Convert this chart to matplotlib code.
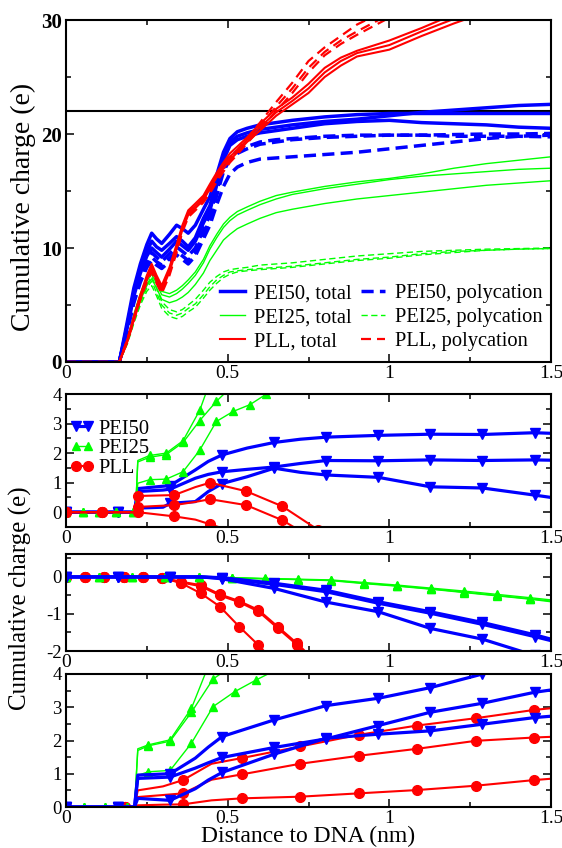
"""
Cumulative charge around DNA for PEI50, PEI25 and PLL (four stacked panels).
Saves out.png (562x848).
"""

import numpy as np
import matplotlib
matplotlib.use("Agg")
import matplotlib.pyplot as plt
from matplotlib.ticker import MultipleLocator
from matplotlib.lines import Line2D

plt.rcParams["font.family"] = ["Liberation Serif", "DejaVu Serif"]
plt.rcParams["axes.unicode_minus"] = False

BLUE, GREEN, RED = "#0000ff", "#00ff00", "#ff0000"

# ── Top panel: total vs. polycation charge ────────────────────────────────────

X_TOP = [0, .165, .19, .21, .23, .25, .265, .28, .296, .32, .342, .36, .378, .40,
         .425, .445, .466, .487, .507, .53, .56, .60, .65, .70, .75, .80, .85, .90,
         1.0, 1.1, 1.2, 1.3, 1.4, 1.5]

PEI50_TOTAL = [
    [0, 0, 3.6, 6.5, 8.6, 10.3, 11.3, 10.8, 10.4, 11.2, 12.0, 11.7, 11.3, 12.0, 13.4, 14.5, 16.4,
     18.4, 19.6, 20.2, 20.5, 20.8, 21.0, 21.2, 21.35, 21.5, 21.6, 21.7, 21.8, 21.8, 21.8, 21.8, 21.8, 21.8],
    [0, 0, 3.3, 6.1, 8.1, 9.7, 10.6, 10.1, 9.8, 10.4, 11.0, 10.6, 10.1, 10.9, 12.6, 13.7, 15.8,
     18.0, 19.3, 19.8, 20.1, 20.4, 20.6, 20.8, 20.95, 21.1, 21.2, 21.3, 21.6, 21.9, 22.1, 22.3, 22.5, 22.6],
    [0, 0, 3.1, 5.8, 7.8, 9.3, 10.0, 9.6, 9.2, 9.9, 10.6, 10.2, 9.8, 10.6, 12.2, 13.3, 15.5,
     17.7, 19.0, 19.5, 19.8, 20.1, 20.3, 20.5, 20.7, 20.9, 21.0, 21.1, 21.2, 21.0, 20.9, 20.8, 20.6, 20.5],
]
PEI50_POLY = [
    [0, 0, 3.0, 5.6, 7.5, 8.9, 9.6, 9.2, 8.8, 9.5, 10.1, 9.7, 9.3, 10.0, 11.6, 12.9, 15.0,
     17.0, 18.0, 18.5, 18.9, 19.3, 19.5, 19.6, 19.7, 19.8, 19.85, 19.9, 19.9, 19.9, 19.95, 20.0, 20.0, 20.05],
    [0, 0, 2.9, 5.4, 7.2, 8.6, 9.2, 8.8, 8.5, 9.1, 9.7, 9.3, 8.9, 9.6, 11.2, 12.5, 14.6,
     16.7, 17.8, 18.3, 18.7, 19.1, 19.3, 19.5, 19.6, 19.7, 19.75, 19.8, 19.9, 19.9, 19.8, 19.8, 19.8, 19.75],
    [0, 0, 2.8, 5.2, 7.0, 8.3, 8.9, 8.5, 8.2, 8.8, 9.4, 9.0, 8.6, 9.3, 10.8, 12.0, 13.8,
     15.4, 16.5, 17.1, 17.5, 17.8, 17.9, 18.0, 18.1, 18.2, 18.3, 18.4, 18.7, 19.0, 19.3, 19.6, 19.8, 19.9],
]
PEI25_TOTAL = [
    [0, 0, 2.0, 4.2, 6.0, 7.4, 8.1, 7.2, 6.2, 6.0, 6.3, 6.7, 7.2, 7.9, 9.0, 10.2, 11.2,
     12.1, 12.7, 13.2, 13.6, 14.1, 14.6, 14.9, 15.15, 15.4, 15.6, 15.8, 16.1, 16.5, 17.0, 17.4, 17.7, 18.0],
    [0, 0, 1.9, 4.0, 5.7, 7.1, 7.7, 6.9, 5.9, 5.7, 6.0, 6.4, 6.9, 7.6, 8.7, 9.9, 10.9,
     11.8, 12.4, 12.9, 13.3, 13.8, 14.3, 14.7, 14.95, 15.2, 15.4, 15.6, 16.0, 16.3, 16.5, 16.7, 16.9, 17.0],
    [0, 0, 1.8, 3.8, 5.4, 6.7, 7.3, 6.5, 5.5, 5.2, 5.4, 5.7, 6.1, 6.8, 7.8, 8.9, 9.8,
     10.7, 11.2, 11.7, 12.1, 12.6, 13.1, 13.4, 13.65, 13.9, 14.1, 14.3, 14.6, 14.9, 15.2, 15.5, 15.7, 15.9],
]
PEI25_POLY = [
    [0, 0, 1.8, 3.8, 5.5, 6.8, 7.5, 6.5, 5.3, 4.6, 4.4, 4.6, 5.0, 5.5, 6.3, 7.0, 7.5,
     7.9, 8.1, 8.2, 8.3, 8.5, 8.6, 8.7, 8.85, 9.0, 9.15, 9.3, 9.5, 9.7, 9.8, 9.9, 9.95, 10.0],
    [0, 0, 1.7, 3.6, 5.2, 6.5, 7.1, 6.1, 5.0, 4.3, 4.1, 4.3, 4.7, 5.1, 5.9, 6.6, 7.2,
     7.6, 7.9, 8.0, 8.1, 8.2, 8.3, 8.4, 8.55, 8.7, 8.85, 9.0, 9.2, 9.5, 9.7, 9.8, 9.9, 9.95],
    [0, 0, 1.6, 3.4, 5.0, 6.2, 6.7, 5.8, 4.7, 4.0, 3.8, 4.0, 4.4, 4.8, 5.6, 6.3, 6.9,
     7.4, 7.7, 7.9, 8.0, 8.1, 8.2, 8.3, 8.45, 8.6, 8.75, 8.9, 9.1, 9.4, 9.6, 9.8, 9.9, 9.95],
]
PLL_TOTAL = [
    [0, 0, 2.0, 4.0, 5.9, 7.6, 8.6, 7.6, 6.7, 8.3, 10.3, 12.0, 13.3, 13.9, 14.6, 15.6, 16.6,
     17.5, 18.3, 18.9, 19.7, 20.9, 22.2, 23.2, 24.4, 25.8, 26.7, 27.3, 28.2, 29.3, 30.5, 31.5, 32.5, 33.5],
    [0, 0, 1.9, 3.8, 5.7, 7.4, 8.4, 7.4, 6.5, 8.1, 10.1, 11.8, 13.1, 13.7, 14.4, 15.4, 16.4,
     17.3, 18.0, 18.6, 19.5, 20.6, 21.9, 22.9, 24.0, 25.4, 26.4, 27.1, 27.8, 29.0, 30.1, 31.1, 32.0, 33.0],
    [0, 0, 1.8, 3.7, 5.5, 7.2, 8.2, 7.2, 6.3, 7.9, 9.9, 11.6, 12.9, 13.5, 14.2, 15.2, 16.2,
     17.0, 17.7, 18.4, 19.3, 20.3, 21.6, 22.6, 23.6, 25.0, 26.0, 26.8, 27.4, 28.6, 29.7, 30.7, 31.6, 32.5],
]
PLL_POLY = [
    [0, 0, 2.0, 3.9, 5.8, 7.4, 8.3, 7.3, 6.4, 8.0, 10.0, 11.8, 13.1, 13.7, 14.4, 15.2, 16.2,
     17.1, 17.9, 18.6, 19.6, 21.0, 22.8, 24.5, 26.4, 27.6, 28.6, 29.6, 31.0, 32.0, 33.0, 34.0, 35.0, 36.0],
    [0, 0, 1.9, 3.8, 5.6, 7.2, 8.1, 7.1, 6.2, 7.8, 9.8, 11.6, 12.9, 13.5, 14.2, 15.0, 16.0,
     16.9, 17.7, 18.4, 19.4, 20.7, 22.4, 24.0, 25.8, 27.2, 28.2, 29.0, 30.5, 31.5, 32.5, 33.5, 34.5, 35.5],
    [0, 0, 1.8, 3.7, 5.5, 7.0, 7.9, 6.9, 6.0, 7.6, 9.6, 11.4, 12.7, 13.3, 14.0, 14.8, 15.8,
     16.7, 17.5, 18.2, 19.2, 20.4, 22.0, 23.6, 25.4, 26.9, 27.9, 28.7, 30.2, 31.2, 32.2, 33.2, 34.2, 35.2],
]
DNA_CHARGE = 22

# ── Panel 2 ───────────────────────────────────────────────────────────────────

P2_BLUE_X = [0, .161, .212, .222, .30, .322, .40, .44, .483, .56, .644, .725, .805, .966,
             1.127, 1.288, 1.449, 1.5]
P2_BLUE = [
    [0, 0, 0, 0.8, 0.88, 0.9, 1.43, 1.72, 1.94, 2.17, 2.36, 2.47, 2.54, 2.6, 2.64, 2.63, 2.69, 2.67],
    [0, 0, 0, 0.7, 0.75, 0.78, 1.15, 1.28, 1.37, 1.45, 1.53, 1.65, 1.75, 1.74, 1.77, 1.75, 1.77, 1.76],
    [0, 0, 0, 0.14, 0.17, 0.3, 0.36, 0.7, 0.97, 1.2, 1.49, 1.35, 1.26, 1.18, 0.86, 0.82, 0.58, 0.5],
]
P2_BLUE_MARK = [0, 1, 5, 8, 10, 12, 13, 14, 15, 16]

P2_GREEN_X = [0, .0517, .1034, .155, .207, .215, .222, .2585, .31, .362, .4136, .465,
              .517, .569, .62, .67]
P2_GREEN = [
    [0, 0, 0, 0, 0, 0, 1.75, 1.92, 2.0, 2.42, 3.45, 5.0, 5.5, 6.0, 6.5, 7.0],
    [0, 0, 0, 0, 0, 0, 1.7, 1.86, 1.95, 2.36, 3.1, 3.75, 4.3, 4.8, 5.3, 5.8],
    [0, 0, 0, 0, 0, 0, 0.98, 1.1, 1.12, 1.37, 2.1, 3.07, 3.41, 3.64, 4.0, 4.3],
]
P2_GREEN_MARK = [0, 1, 2, 3, 4, 7, 8, 9, 10, 11, 12, 13, 14, 15]

P2_RED_X = [0, .1115, .212, .223, .3345, .40, .446, .5575, .669, .78]
P2_RED = [
    [0, 0, 0, 0.55, 0.58, 0.85, 1.0, 0.71, 0.2, -0.6],
    [0, 0, 0, 0.18, 0.24, 0.35, 0.44, 0.24, -0.27, -1.0],
    [0, 0, 0, 0.0, -0.14, -0.25, -0.41, -0.8, -1.3, -1.8],
]
P2_RED_MARK = [0, 1, 3, 4, 6, 7, 8, 9]

# ── Panel 3 ───────────────────────────────────────────────────────────────────

P3_BLUE_X = [0, .161, .322, .42, .483, .644, .805, .966, 1.127, 1.288, 1.449, 1.5]
P3_BLUE = [
    [0, 0, 0, 0, -0.05, -0.31, -0.68, -0.94, -1.39, -1.68, -2.12, -2.3],
    [0, 0, 0, 0, -0.03, -0.2, -0.4, -0.71, -0.98, -1.28, -1.61, -1.72],
    [0, 0, 0, 0, -0.02, -0.17, -0.36, -0.67, -0.94, -1.23, -1.56, -1.68],
]
P3_BLUE_MARK = [0, 1, 2, 4, 5, 6, 7, 8, 9, 10]

P3_GREEN_X = [0, .1025, .205, .3075, .41, .5125, .615, .7175, .82, .9225, 1.025, 1.1275,
              1.23, 1.3325, 1.435, 1.5]
P3_GREEN = [
    [0, 0, 0, 0, 0, -0.02, -0.04, -0.06, -0.08, -0.15, -0.22, -0.3, -0.38, -0.47, -0.56, -0.62],
    [0, 0, 0, 0, 0, -0.03, -0.05, -0.07, -0.1, -0.18, -0.25, -0.33, -0.42, -0.51, -0.6, -0.67],
    [0, 0, 0, 0, 0, -0.02, -0.05, -0.07, -0.09, -0.17, -0.24, -0.32, -0.41, -0.5, -0.59, -0.65],
]
P3_GREEN_MARK = list(range(15))

P3_RED_X = [0, .0595, .119, .1785, .238, .2975, .357, .4165, .476, .5355, .595, .6545, .714, .774]
P3_RED = [
    [0, 0, 0, 0, 0, -0.02, -0.17, -0.44, -0.8, -1.34, -1.84, -2.4, -3.0, -3.5],
    [0, 0, 0, 0, 0, -0.02, -0.13, -0.22, -0.47, -0.65, -0.89, -1.34, -1.79, -2.3],
    [0, 0, 0, 0, 0, -0.03, -0.15, -0.25, -0.5, -0.68, -0.93, -1.38, -1.83, -2.35],
]
P3_RED_MARK = list(range(14))

# ── Panel 4 ───────────────────────────────────────────────────────────────────

P4_BLUE_X = [0, .161, .212, .222, .322, .40, .44, .483, .644, .805, .966, 1.127, 1.288, 1.449, 1.5]
P4_BLUE = [
    [0, 0, 0, 0.96, 1.0, 1.47, 1.8, 2.12, 2.62, 3.05, 3.27, 3.59, 4.0, 4.4, 4.5],
    [0, 0, 0, 0.86, 0.9, 1.17, 1.33, 1.49, 1.79, 2.05, 2.45, 2.85, 3.12, 3.45, 3.52],
    [0, 0, 0, 0.26, 0.2, 0.55, 0.81, 1.04, 1.59, 2.07, 2.19, 2.29, 2.49, 2.69, 2.73],
]
P4_BLUE_MARK = [0, 1, 4, 7, 8, 9, 10, 11, 12, 13]

P4_GREEN_X = [0, .055, .122, .188, .212, .222, .255, .322, .388, .455, .522, .588, .655]
P4_GREEN = [
    [0, 0, 0, 0, 0, 1.75, 1.87, 2.02, 2.97, 4.6, 5.2, 5.7, 6.2],
    [0, 0, 0, 0, 0, 1.7, 1.84, 1.98, 2.85, 3.85, 4.3, 4.8, 5.3],
    [0, 0, 0, 0, 0, 0.95, 1.06, 1.1, 1.92, 3.02, 3.47, 3.82, 4.15],
]
P4_GREEN_MARK = [0, 1, 2, 3, 6, 7, 8, 9, 10, 11, 12]

P4_RED_X = [0, .181, .212, .222, .30, .362, .45, .543, .724, .905, 1.086, 1.267, 1.448, 1.5]
P4_RED = [
    [0, 0, 0, 0.5, 0.62, 0.81, 1.3, 1.47, 1.82, 2.17, 2.45, 2.67, 2.92, 2.97],
    [0, 0, 0, 0.3, 0.36, 0.41, 0.82, 0.98, 1.3, 1.54, 1.75, 1.99, 2.09, 2.11],
    [0, 0, 0, 0.05, 0.07, 0.08, 0.2, 0.26, 0.31, 0.41, 0.51, 0.64, 0.81, 0.85],
]
P4_RED_MARK = [0, 1, 5, 7, 8, 9, 10, 11, 12]

X_TICKS = [0, 0.5, 1, 1.5]
X_TICKLABELS = ["0", "0.5", "1", "1.5"]

# ── Styles ────────────────────────────────────────────────────────────────────

STYLE = {
    "PEI50": dict(color=BLUE, lw=2.3, marker="v", ms=7.5),
    "PEI25": dict(color=GREEN, lw=1.0, marker="^", ms=6),
    "PLL":   dict(color=RED, lw=1.5, marker="o", ms=7),
}


def frame(ax, ylim, ymajor, yminor, ytick_size=13.5, ytick_bold=False):
    ax.set_xlim(0, 1.5)
    ax.set_ylim(*ylim)
    ax.xaxis.set_major_locator(MultipleLocator(0.5))
    ax.xaxis.set_minor_locator(MultipleLocator(0.25))
    ax.yaxis.set_major_locator(MultipleLocator(ymajor))
    ax.yaxis.set_minor_locator(MultipleLocator(yminor))
    ax.set_xticks(X_TICKS)
    ax.set_xticklabels(X_TICKLABELS, fontsize=14)
    ax.tick_params(which="both", direction="in", top=True, right=True, width=1.1)
    ax.tick_params(which="major", length=6)
    ax.tick_params(which="minor", length=3.5)
    ax.tick_params(axis="x", pad=2)
    ax.tick_params(axis="y", pad=3, labelsize=ytick_size)
    if ytick_bold:
        for t in ax.get_yticklabels():
            t.set_fontweight("bold")
    for s in ax.spines.values():
        s.set_linewidth(1.5)


def draw(ax, xs, curves, key, marks):
    st = STYLE[key]
    for ys in curves:
        ax.plot(xs, ys, color=st["color"], lw=st["lw"], marker=st["marker"],
                ms=st["ms"], markevery=marks, mec=st["color"], mfc=st["color"])


fig = plt.figure(figsize=(5.62, 8.48), dpi=100)
L, W = 66 / 562, 485 / 562
ax1 = fig.add_axes([L, 1 - 362 / 848, W, 342 / 848])
ax2 = fig.add_axes([L, 1 - 527 / 848, W, 133 / 848])
ax3 = fig.add_axes([L, 1 - 651 / 848, W, 97 / 848])
ax4 = fig.add_axes([L, 1 - 807 / 848, W, 133 / 848])

# top panel
ax1.axhline(DNA_CHARGE, color="black", lw=1.5, zorder=1)
for ys in PEI25_POLY:
    ax1.plot(X_TOP, ys, color=GREEN, lw=1.0, dashes=(4.5, 2.5))
for ys in PEI25_TOTAL:
    ax1.plot(X_TOP, ys, color=GREEN, lw=1.0)
for ys in PEI50_POLY:
    ax1.plot(X_TOP, ys, color=BLUE, lw=2.5, dashes=(3.5, 1.8))
for ys in PEI50_TOTAL:
    ax1.plot(X_TOP, ys, color=BLUE, lw=2.5)
for ys in PLL_POLY:
    ax1.plot(X_TOP, ys, color=RED, lw=1.6, dashes=(4.5, 2.7))
for ys in PLL_TOTAL:
    ax1.plot(X_TOP, ys, color=RED, lw=1.5)
frame(ax1, (0, 30), 10, 5, ytick_size=15, ytick_bold=True)

handles = [
    Line2D([], [], color=BLUE, lw=2.5),
    Line2D([], [], color=GREEN, lw=1.0),
    Line2D([], [], color=RED, lw=1.5),
    Line2D([], [], color=BLUE, lw=2.5, dashes=(3.5, 1.8)),
    Line2D([], [], color=GREEN, lw=1.0, dashes=(4.5, 2.5)),
    Line2D([], [], color=RED, lw=1.6, dashes=(4.5, 2.7)),
]
labels = ["PEI50, total", "PEI25, total", "PLL, total",
          "PEI50, polycation", "PEI25, polycation", "PLL, polycation"]
ax1.legend(handles, labels, ncol=2, loc="upper left", bbox_to_anchor=(0.3175, 0.228),
           frameon=False, fontsize=14.8, handlelength=1.2, handletextpad=0.45,
           columnspacing=0.45, labelspacing=0.22, borderpad=0, borderaxespad=0)

# panel 2
draw(ax2, P2_BLUE_X, P2_BLUE, "PEI50", P2_BLUE_MARK)
draw(ax2, P2_GREEN_X, P2_GREEN, "PEI25", P2_GREEN_MARK)
draw(ax2, P2_RED_X, P2_RED, "PLL", P2_RED_MARK)
frame(ax2, (-0.5, 4), 1, 0.5)
leg_h = [Line2D([], [], color=STYLE[k]["color"], lw=STYLE[k]["lw"], marker=STYLE[k]["marker"],
                ms=STYLE[k]["ms"]) for k in ("PEI50", "PEI25", "PLL")]
ax2.legend(leg_h, ["PEI50", "PEI25", "PLL"], loc="upper left", bbox_to_anchor=(0.008, 0.81),
           frameon=False, fontsize=14.8, numpoints=2, handlelength=1.2, handletextpad=0.2,
           labelspacing=0.02, borderpad=0, borderaxespad=0)

# panel 3
draw(ax3, P3_RED_X, P3_RED, "PLL", P3_RED_MARK)
draw(ax3, P3_GREEN_X, P3_GREEN, "PEI25", P3_GREEN_MARK)
draw(ax3, P3_BLUE_X, P3_BLUE, "PEI50", P3_BLUE_MARK)
frame(ax3, (-2, 0.62), 1, 0.5)

# panel 4
draw(ax4, P4_RED_X, P4_RED, "PLL", P4_RED_MARK)
draw(ax4, P4_GREEN_X, P4_GREEN, "PEI25", P4_GREEN_MARK)
draw(ax4, P4_BLUE_X, P4_BLUE, "PEI50", P4_BLUE_MARK)
frame(ax4, (0, 4), 1, 0.5)

fig.text(23 / 562, 1 - 207 / 848, "Cumulative charge (e)", rotation=90,
         ha="center", va="center", fontsize=20)
fig.text(20 / 562, 1 - 598 / 848, "Cumulative charge (e)", rotation=90,
         ha="center", va="center", fontsize=18)
fig.text(308 / 562, 1 - 836 / 848, "Distance to DNA (nm)", ha="center", va="center", fontsize=17)

fig.savefig("out.png", dpi=100)
